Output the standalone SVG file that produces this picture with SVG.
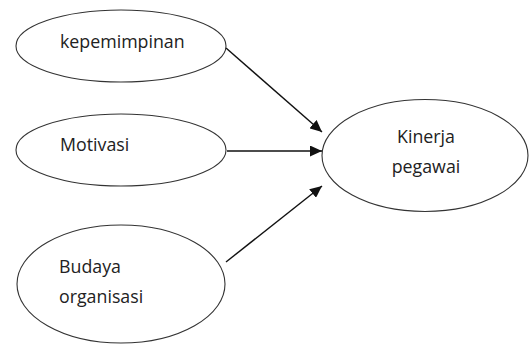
<svg xmlns="http://www.w3.org/2000/svg" width="530" height="345" viewBox="0 0 530 345">
<style>
.node ellipse{fill:#fff;stroke:#333;stroke-width:1.1}
.node text{font-family:"Open Sans","Liberation Sans",sans-serif;font-size:17.8px;fill:#222}
.conn line{stroke:#111;stroke-width:1.4}
</style>
<defs>
<marker id="ah" markerUnits="userSpaceOnUse" markerWidth="12" markerHeight="11" refX="12" refY="5.5" orient="auto">
<path d="M0,0 L12,5.5 L0,11 z" fill="#111"/>
</marker>
</defs>
<rect width="530" height="345" fill="#fff"/>
<g id="n1" class="node">
<ellipse cx="121" cy="46" rx="105" ry="36"/>
<text x="60" y="48">kepemimpinan</text>
</g>
<g id="n2" class="node">
<ellipse cx="121" cy="150" rx="105" ry="36"/>
<text x="60" y="151">Motivasi</text>
</g>
<g id="n3" class="node">
<ellipse cx="121" cy="284" rx="104" ry="59"/>
<text x="59" y="273">Budaya</text>
<text x="59" y="303">organisasi</text>
</g>
<g id="n4" class="node">
<ellipse cx="425" cy="155.5" rx="103" ry="56"/>
<text x="426" y="143" text-anchor="middle">Kinerja</text>
<text x="426" y="173" text-anchor="middle">pegawai</text>
</g>
<g id="connectors" class="conn">
<line x1="226" y1="48" x2="322" y2="132" marker-end="url(#ah)"/>
<line x1="227" y1="151" x2="322" y2="151" marker-end="url(#ah)"/>
<line x1="226" y1="262" x2="322" y2="186" marker-end="url(#ah)"/>
</g>
</svg>
